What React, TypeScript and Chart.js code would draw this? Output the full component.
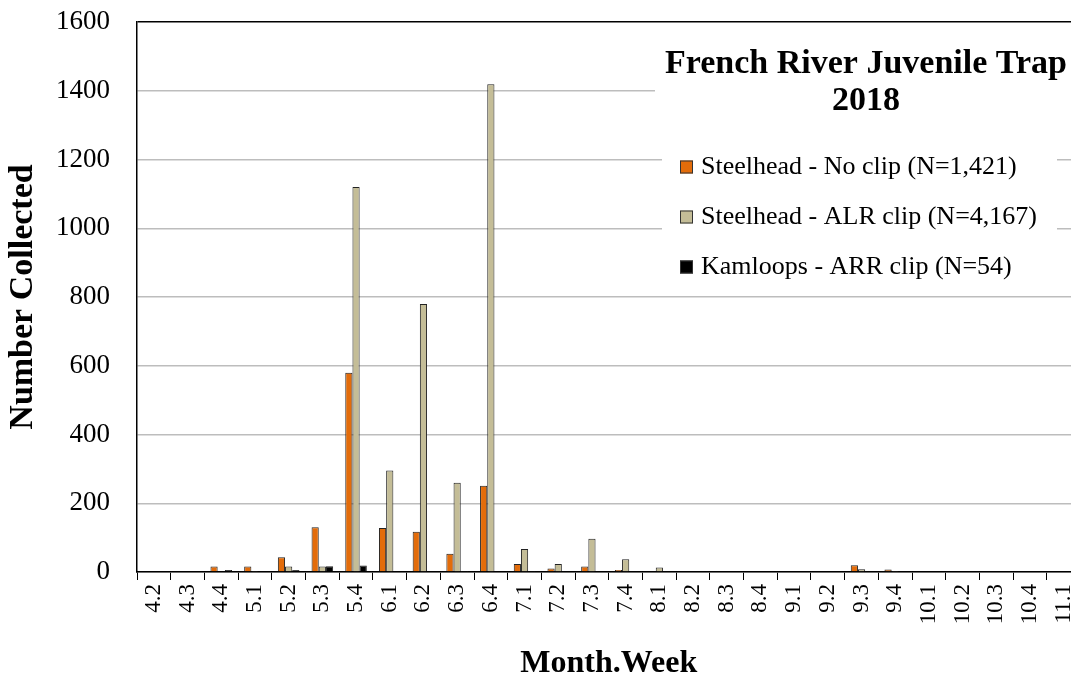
import React, { useEffect, useRef } from 'react';
import { Chart, registerables } from 'chart.js';

Chart.register(...registerables);

const categories = ['4.2', '4.3', '4.4', '5.1', '5.2', '5.3', '5.4', '6.1', '6.2', '6.3', '6.4', '7.1', '7.2', '7.3', '7.4', '8.1', '8.2', '8.3', '8.4', '9.1', '9.2', '9.3', '9.4', '10.1', '10.2', '10.3', '10.4', '11.1'];
const steelheadNoClip = [0, 0, 16, 16, 43, 130, 580, 128, 117, 53, 251, 23, 10, 16, 6, 2, 0, 0, 0, 2, 0, 20, 7, 2, 0, 0, 0, 0];
const steelheadALR = [0, 0, 0, 3, 16, 16, 1120, 295, 780, 260, 1419, 67, 23, 97, 37, 13, 2, 0, 2, 2, 2, 8, 3, 0, 0, 0, 0, 0];
const kamloopsARR = [0, 0, 6, 0, 6, 17, 19, 2, 2, 1, 0, 1, 0, 0, 0, 0, 0, 0, 0, 0, 0, 0, 0, 0, 0, 0, 0, 0];
const seriesLabels = ['Steelhead - No clip (N=1,421)', 'Steelhead - ALR clip (N=4,167)', 'Kamloops - ARR clip (N=54)'];
const seriesColors = ['#E36C0A', '#C4BD97', '#000000'];
const titleLines = ['French River Juvenile Trap', '2018'];
const yTicks = [0, 200, 400, 600, 800, 1000, 1200, 1400, 1600];

const SERIF = '"Liberation Serif", "Times New Roman", serif';

const overlayPlugin = {
  id: 'overlay',
  beforeDatasetsDraw(chart: any) {
    const { ctx, chartArea: ca } = chart;
    ctx.save();
    ctx.fillStyle = '#ffffff';
    // title box
    ctx.fillRect(ca.left + 518, ca.top + 8, ca.right - ca.left - 518 + 2, 100);
    // legend box
    ctx.fillRect(ca.left + 525, ca.top + 118, 395, 150);
    ctx.restore();
  },
  afterDatasetsDraw(chart: any) {
    const { ctx, chartArea: ca } = chart;
    ctx.save();
    ctx.fillStyle = '#000';
    ctx.textAlign = 'center';
    ctx.textBaseline = 'middle';
    ctx.font = `bold 34px ${SERIF}`;
    const cx = ca.left + 729;
    ctx.fillText(titleLines[0], cx, ca.top + 42);
    ctx.fillText(titleLines[1], cx, ca.top + 79);

    ctx.textAlign = 'left';
    ctx.font = `26px ${SERIF}`;
    chart.data.datasets.forEach((ds: any, i: number) => {
      const y = ca.top + 145 + i * 50;
      ctx.fillStyle = ds.backgroundColor;
      ctx.fillRect(ca.left + 543, y - 6.5, 13, 13);
      ctx.strokeStyle = '#333';
      ctx.lineWidth = 1;
      ctx.strokeRect(ca.left + 543.5, y - 6, 12, 12);
      ctx.fillStyle = '#000';
      ctx.fillText(ds.label, ca.left + 564, y);
    });
    ctx.restore();
  },
};

export default function App() {
  const canvasRef = useRef<HTMLCanvasElement | null>(null);

  useEffect(() => {
    if (!canvasRef.current) return;
    const chart = new Chart(canvasRef.current, {
      type: 'bar',
      data: {
        labels: categories,
        datasets: [
          { label: seriesLabels[0], data: steelheadNoClip, backgroundColor: seriesColors[0], borderColor: '#222', borderWidth: 1 },
          { label: seriesLabels[1], data: steelheadALR, backgroundColor: seriesColors[1], borderColor: '#222', borderWidth: 1 },
          { label: seriesLabels[2], data: kamloopsARR, backgroundColor: seriesColors[2], borderColor: '#222', borderWidth: 1 },
        ],
      },
      options: {
        responsive: false,
        animation: false,
        devicePixelRatio: 1,
        layout: { padding: { left: 0, right: 19.4, top: 22, bottom: 0 } },
        datasets: { bar: { categoryPercentage: 0.64, barPercentage: 1.0 } },
        plugins: {
          legend: { display: false },
          title: { display: false },
          tooltip: { enabled: false },
        },
        scales: {
          x: {
            type: 'category',
            offset: true,
            grid: { display: true, offset: true, drawOnChartArea: false, drawTicks: true, tickLength: 8, color: '#000', lineWidth: 1 },
            border: { display: true, color: '#000', width: 1.5 },
            ticks: { autoSkip: false, maxRotation: 90, minRotation: 90, padding: 4, color: '#000', font: { family: SERIF, size: 23 } },
            title: { display: true, text: 'Month.Week', color: '#000', font: { family: SERIF, size: 32, weight: 'bold', lineHeight: 0.8 }, padding: { top: 0, bottom: 0 } },
            afterFit(scale: any) { scale.height = 105; },
          },
          y: {
            min: 0,
            max: 1600,
            afterBuildTicks(scale: any) { scale.ticks = yTicks.map((v) => ({ value: v })); },
            grid: {
              drawTicks: true,
              tickLength: 24,
              tickColor: 'rgba(0,0,0,0)',
              color: (c: any) => (c.tick && c.tick.value === 1600 ? '#000' : '#bdbdbd'),
              lineWidth: 1.5,
            },
            border: { display: true, color: '#000', width: 1.5 },
            ticks: { padding: 3, color: '#000', font: { family: SERIF, size: 27 }, callback: (v: any) => String(v) },
            title: { display: true, text: 'Number Collected', color: '#000', font: { family: SERIF, size: 34, weight: 'bold', lineHeight: 1 }, padding: { top: 6, bottom: 0 } },
            afterFit(scale: any) { scale.width = 137; },
          },
        },
      },
      plugins: [overlayPlugin],
    } as any);
    return () => chart.destroy();
  }, []);

  return (
    <div style={{ position: 'fixed', left: 0, top: 0, width: 1071, height: 677, overflow: 'hidden', background: '#fff' }}>
      <canvas ref={canvasRef} width={1100} height={677} style={{ display: 'block', width: 1100, height: 677 }} />
    </div>
  );
}
